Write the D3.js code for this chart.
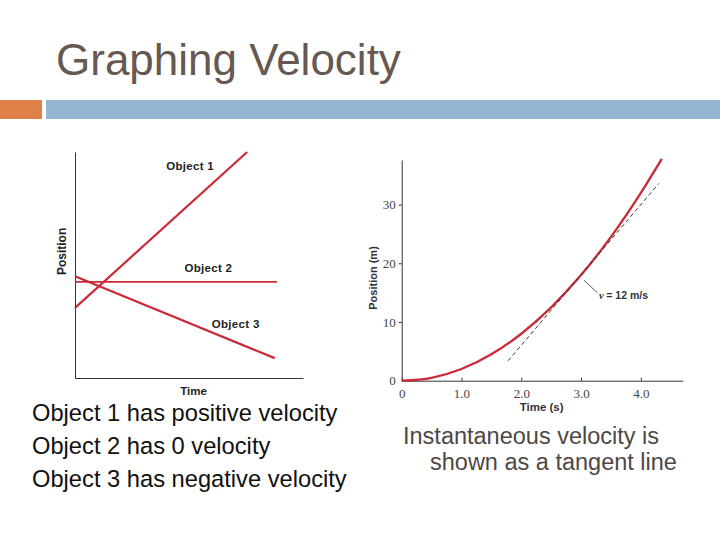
<!DOCTYPE html>
<html><head><meta charset="utf-8">
<script src="https://cdn.jsdelivr.net/npm/d3@7"></script>
<style>body{margin:0;background:#fff}svg{display:block}</style>
</head><body><svg id="c" width="720" height="540"></svg>
<script>
// ---- data ----
const title = "Graphing Velocity";
const leftNames = ["Object 1", "Object 2", "Object 3"];
const object1 = [[0, 3.1], [7.55, 10]];
const object2 = [[0, 4.25], [8.86, 4.25]];
const object3 = [[0, 4.5], [8.76, 0.88]];
const leftAxisLabels = ["Time", "Position"];
const leftNotes = ["Object 1 has positive velocity", "Object 2 has 0 velocity", "Object 3 has negative velocity"];

const curveTime = [0, 0.5, 1.0, 1.5, 2.0, 2.5, 3.0, 3.5, 4.0, 4.35];
const curvePos  = [0, 0.5, 2.0, 4.5, 8.0, 12.5, 18.0, 24.5, 32.0, 37.8];
const tangentTime = [1.78, 4.3];
const tangentPos  = [3.4, 33.6];
const xTicks = [0, 1, 2, 3, 4];
const xTickLabels = ["0", "1.0", "2.0", "3.0", "4.0"];
const yTicks = [0, 10, 20, 30];
const yTickLabels = ["0", "10", "20", "30"];
const rightAxisLabels = ["Time (s)", "Position (m)"];
const tangentNote = "= 12 m/s";
const rightNotes = ["Instantaneous velocity is", "shown as a tangent line"];

// ---- drawing ----
const svg = d3.select("#c");
const sans = "'Liberation Sans', Arial, sans-serif";
const serif = "'Liberation Serif', 'Times New Roman', serif";
const red = "#c92a36";

// title & decoration bar
svg.append("text").attr("x", 56).attr("y", 75).attr("font-family", sans)
  .attr("font-size", 44).attr("fill", "#675852").text(title);
svg.append("rect").attr("x", 0).attr("y", 100).attr("width", 42).attr("height", 19).attr("fill", "#df8049");
svg.append("rect").attr("x", 46).attr("y", 100).attr("width", 674).attr("height", 19).attr("fill", "#95b5d2");

// ---- left chart ----
const xL = d3.scaleLinear([0, 10], [75, 303]);
const yL = d3.scaleLinear([0, 10], [378, 152]);
const gL = svg.append("g");
gL.append("g").attr("transform", `translate(0,${yL(0)})`)
  .call(d3.axisBottom(xL).tickValues([]).tickSizeOuter(0))
  .call(g => g.select(".domain").attr("stroke", "#333"));
gL.append("g").attr("transform", `translate(${xL(0)},0)`)
  .call(d3.axisLeft(yL).tickValues([]).tickSizeOuter(0))
  .call(g => g.select(".domain").attr("stroke", "#333"));
const lineL = d3.line().x(d => xL(d[0])).y(d => yL(d[1]));
[object1, object2, object3].forEach((s, i) => {
  gL.append("path").datum(s).attr("d", lineL).attr("fill", "none")
    .attr("stroke", red).attr("stroke-width", i === 1 ? 1.8 : 2.2);
});
const leftLabelAt = [[4.0, 9.2], [4.8, 4.7], [6.0, 2.2]];
leftNames.forEach((n, i) => {
  gL.append("text").attr("x", xL(leftLabelAt[i][0])).attr("y", yL(leftLabelAt[i][1]))
    .attr("font-family", sans).attr("font-size", 11.5).attr("font-weight", "bold")
    .attr("fill", "#222").attr("letter-spacing", 0.3).text(n);
});
gL.append("text").attr("x", xL(5.2)).attr("y", 395).attr("text-anchor", "middle")
  .attr("font-family", sans).attr("font-size", 11.5).attr("font-weight", "bold").attr("fill", "#222").text(leftAxisLabels[0]);
gL.append("text").attr("transform", `translate(66,${yL(5.6)}) rotate(-90)`).attr("text-anchor", "middle")
  .attr("font-family", sans).attr("font-size", 12).attr("font-weight", "bold").attr("fill", "#222").text(leftAxisLabels[1]);

leftNotes.forEach((t, i) => {
  svg.append("text").attr("x", 32).attr("y", 421 + i * 33).attr("font-family", sans)
    .attr("font-size", 23.7).attr("fill", "#111").text(t);
});

// ---- right chart ----
const xR = d3.scaleLinear([0, 4.7], [401.7, 682.7]);
const yR = d3.scaleLinear([0, 37.6], [380.7, 160]);
const gR = svg.append("g");
gR.append("g").attr("transform", `translate(0,${yR(0)})`)
  .call(d3.axisBottom(xR).tickValues(xTicks).tickFormat((d, i) => xTickLabels[i]).tickSize(-3).tickSizeOuter(0).tickPadding(8))
  .call(g => { g.selectAll("line,.domain").attr("stroke", "#333");
    g.selectAll("text").attr("font-family", serif).attr("font-size", 13).attr("fill", "#444"); });
gR.append("g").attr("transform", `translate(${xR(0)},0)`)
  .call(d3.axisLeft(yR).tickValues(yTicks).tickFormat((d, i) => yTickLabels[i]).tickSize(3).tickSizeOuter(0).tickPadding(3))
  .call(g => { g.selectAll("line,.domain").attr("stroke", "#333");
    g.selectAll(".tick").filter(d => d === 0).select("line").remove();
    g.selectAll("text").attr("font-family", serif).attr("font-size", 13).attr("fill", "#444"); });

const lineR = d3.line().x(d => xR(d[0])).y(d => yR(d[1])).curve(d3.curveMonotoneX);
gR.append("path").datum(curveTime.map((t, i) => [t, curvePos[i]])).attr("d", lineR)
  .attr("fill", "none").attr("stroke", red).attr("stroke-width", 2.3);
gR.append("path").datum(tangentTime.map((t, i) => [t, tangentPos[i]])).attr("d", d3.line().x(d => xR(d[0])).y(d => yR(d[1])))
  .attr("fill", "none").attr("stroke", "#333").attr("stroke-width", 1).attr("stroke-dasharray", "4,3");
// annotation
gR.append("line").attr("x1", xR(3.05)).attr("y1", yR(17.1)).attr("x2", xR(3.27)).attr("y2", yR(15.0))
  .attr("stroke", "#333").attr("stroke-width", 0.8);
const ann = gR.append("text").attr("x", xR(3.30)).attr("y", yR(13.9)).attr("font-family", sans)
  .attr("font-size", 10.5).attr("font-weight", "bold").attr("fill", "#333");
ann.append("tspan").attr("font-style", "italic").attr("font-family", serif).text("v ");
ann.append("tspan").text(tangentNote);

gR.append("text").attr("x", xR(2.34)).attr("y", 411).attr("text-anchor", "middle")
  .attr("font-family", sans).attr("font-size", 11.5).attr("font-weight", "bold").attr("fill", "#333").text(rightAxisLabels[0]);
gR.append("text").attr("transform", `translate(377,${yR(17.5)}) rotate(-90)`).attr("text-anchor", "middle")
  .attr("font-family", sans).attr("font-size", 11).attr("font-weight", "bold").attr("fill", "#333").text(rightAxisLabels[1]);

svg.append("text").attr("x", 403).attr("y", 444).attr("font-family", sans).attr("font-size", 23.5)
  .attr("fill", "#4e4746").text(rightNotes[0]);
svg.append("text").attr("x", 430).attr("y", 470).attr("font-family", sans).attr("font-size", 23.5)
  .attr("fill", "#4e4746").text(rightNotes[1]);
</script></body></html>
